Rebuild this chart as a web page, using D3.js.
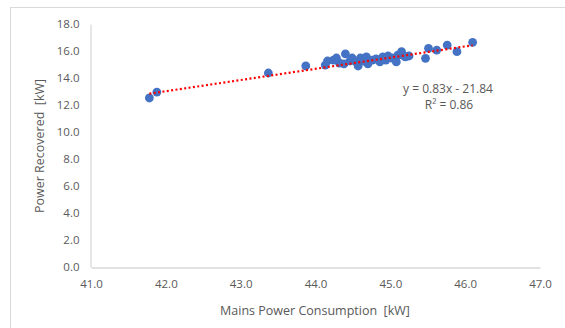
<!DOCTYPE html>
<html>
<head>
<meta charset="utf-8">
<script src="https://cdn.jsdelivr.net/npm/d3@7"></script>
<style>
body{margin:0;background:#fff;}
text{font-family:"Open Sans",sans-serif;fill:#595959;white-space:pre;}
</style>
</head>
<body>
<svg id="chart" width="565" height="328"></svg>
<script>
// mains power consumption [kW]
var mains = [41.78,41.88,43.37,43.87,44.13,44.16,44.24,44.28,44.32,44.40,44.38,44.46,44.49,44.54,44.57,44.60,44.64,44.68,44.70,44.76,44.81,44.86,44.90,44.94,44.97,45.02,45.08,45.10,45.17,45.15,45.20,45.25,45.20,45.51,45.47,45.62,45.76,45.89,46.10];
// power recovered [kW]
var recovered = [12.52,12.96,14.37,14.89,14.96,15.26,15.33,15.48,15.11,15.78,15.04,15.26,15.48,15.19,14.89,15.48,15.26,15.56,15.04,15.33,15.41,15.19,15.56,15.33,15.63,15.48,15.19,15.70,15.70,15.95,15.56,15.63,15.58,16.20,15.46,16.07,16.44,15.95,16.64];
var xTicks = [41,42,43,44,45,46,47];
var yTicks = [0,2,4,6,8,10,12,14,16,18];
var slope = 0.83, intercept = -21.84, r2 = 0.86;

var svg = d3.select("#chart");

// chart area border
svg.append("rect").attr("x",10.5).attr("y",7.5).attr("width",600).attr("height",400)
	.attr("fill","#fff").attr("stroke","#d9d9d9");

var x = d3.scaleLinear().domain([41,47]).range([91,540]);
var y = d3.scaleLinear().domain([0,18]).range([267,24]);

var gx = svg.append("g").attr("transform","translate(0,267.5)")
	.call(d3.axisBottom(x).tickValues(xTicks).tickFormat(d3.format(".1f")).tickSize(0).tickPadding(12));
var gy = svg.append("g").attr("transform","translate(90.5,0)")
	.call(d3.axisLeft(y).tickValues(yTicks).tickFormat(d3.format(".1f")).tickSize(0).tickPadding(11));
[gx,gy].forEach(function(g){
	g.select(".domain").attr("stroke","#d9d9d9").attr("stroke-width",1.3);
	g.selectAll("text").style("font-size","11.5px").attr("fill","#595959");
});

// points
svg.append("g").selectAll("circle")
	.data(mains)
	.enter().append("circle")
	.attr("cx",function(d){return x(d);})
	.attr("cy",function(d,i){return y(recovered[i]);})
	.attr("r",4.4)
	.attr("fill","#4472c4");

// linear trendline
var xr = d3.extent(mains);
svg.append("line")
	.attr("x1",x(xr[0])).attr("y1",y(slope*xr[0]+intercept))
	.attr("x2",x(xr[1])).attr("y2",y(slope*xr[1]+intercept))
	.attr("stroke","#ff0000").attr("stroke-width",2.2)
	.attr("stroke-dasharray","2,2.4");

svg.append("text").attr("x",448).attr("y",93).attr("text-anchor","middle")
	.style("font-size","12px").text("y = "+slope+"x - "+Math.abs(intercept));
svg.append("text").attr("x",449).attr("y",109).attr("text-anchor","middle")
	.style("font-size","12px").text("R\u00b2 = "+r2);

// axis titles
svg.append("text").attr("x",315).attr("y",315).attr("text-anchor","middle")
	.style("font-size","12.5px").text("Mains Power Consumption  [kW]");
svg.append("text").attr("transform","translate(44,146) rotate(-90)").attr("text-anchor","middle")
	.style("font-size","12.5px").text("Power Recovered  [kW]");
</script>
</body>
</html>
